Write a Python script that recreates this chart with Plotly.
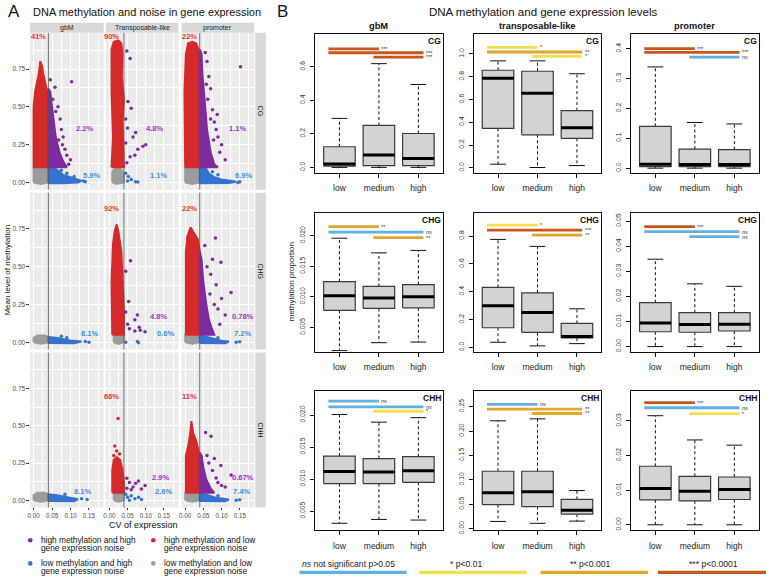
import plotly.graph_objects as go

W, H = 766, 580

# ======================= PANEL A DATA =======================
A_REGIONS = ["gbM", "Transposable-like", "promoter"]
A_CONTEXTS = ["CG", "CHG", "CHH"]
A_CV_THRESHOLD = 0.04
A_XTICKS = [0.0, 0.05, 0.10, 0.15]
A_YTICKS = [0.0, 0.25, 0.50, 0.75]

# dense clouds are outlined as polygons (CV, methylation); sparse points listed one by one
A_GBM_CG = dict(
    gray=[(0.0, 0.0), (0.0, 0.1), (0.04, 0.1), (0.04, 0.0), (0.02, -0.01)],
    blue=[(0.04, -0.005), (0.04, 0.1), (0.05, 0.1), (0.06, 0.09), (0.07, 0.07), (0.08, 0.05), (0.1, 0.035),
          (0.12, 0.02), (0.13, 0.01), (0.12, 0.0), (0.08, -0.006)],
    red=[(0.0, 0.1), (0.0, 0.5), (0.004, 0.6), (0.01, 0.66), (0.014, 0.72), (0.018, 0.80), (0.023, 0.77),
         (0.026, 0.72), (0.03, 0.68), (0.035, 0.62), (0.04, 0.6), (0.04, 0.1)],
    purple=[(0.04, 0.1), (0.04, 0.62), (0.045, 0.6), (0.05, 0.5), (0.055, 0.4), (0.06, 0.3), (0.07, 0.2),
            (0.08, 0.14), (0.09, 0.1)],
    purple_pts=[(0.045, 0.68), (0.052, 0.55), (0.06, 0.47), (0.066, 0.5), (0.072, 0.42), (0.075, 0.35),
                (0.08, 0.3), (0.068, 0.28), (0.085, 0.22), (0.09, 0.18), (0.1, 0.15), (0.103, 0.666),
                (0.058, 0.63), (0.078, 0.25), (0.095, 0.12)],
    blue_pts=[(0.135, 0.01), (0.14, 0.005), (0.11, 0.04), (0.09, 0.06), (0.075, 0.08)],
)
A_TE_CG = dict(
    gray=[(0.008, 0.0), (0.008, 0.07), (0.015, 0.09), (0.03, 0.09), (0.04, 0.06), (0.04, 0.0), (0.02, -0.01)],
    red=[(0.006, 0.1), (0.01, 0.3), (0.006, 0.6), (0.006, 0.88), (0.012, 0.93), (0.025, 0.94), (0.033, 0.92),
         (0.036, 0.85), (0.034, 0.7), (0.04, 0.55), (0.036, 0.4), (0.04, 0.2), (0.04, 0.1)],
    purple_pts=[(0.048, 0.87), (0.057, 0.82), (0.051, 0.535), (0.06, 0.49), (0.045, 0.42), (0.05, 0.36),
                (0.072, 0.33), (0.065, 0.3), (0.092, 0.24), (0.1, 0.25), (0.078, 0.22), (0.057, 0.17),
                (0.07, 0.18), (0.045, 0.26), (0.048, 0.13)],
    blue_pts=[(0.045, 0.06), (0.052, 0.04), (0.06, 0.02), (0.072, 0.005), (0.078, 0.003), (0.05, 0.01)],
)
A_PRO_CG = dict(
    gray=[(0.0, 0.0), (0.0, 0.1), (0.04, 0.1), (0.04, 0.0), (0.02, -0.01)],
    blue=[(0.04, -0.005), (0.04, 0.1), (0.055, 0.1), (0.065, 0.06), (0.08, 0.035), (0.1, 0.02), (0.13, 0.01),
          (0.14, 0.005), (0.12, -0.003), (0.07, -0.006)],
    red=[(0.0, 0.1), (-0.002, 0.6), (0.002, 0.85), (0.008, 0.92), (0.02, 0.93), (0.03, 0.92), (0.037, 0.88),
         (0.04, 0.8), (0.04, 0.1)],
    purple=[(0.04, 0.1), (0.04, 0.88), (0.045, 0.85), (0.048, 0.7), (0.055, 0.5), (0.06, 0.35), (0.07, 0.2),
            (0.08, 0.12), (0.09, 0.1)],
    purple_pts=[(0.152, 0.765), (0.055, 0.86), (0.06, 0.8), (0.065, 0.7), (0.07, 0.62), (0.062, 0.55),
                (0.075, 0.48), (0.08, 0.4), (0.085, 0.35), (0.09, 0.3), (0.1, 0.25), (0.095, 0.2),
                (0.11, 0.15), (0.07, 0.42), (0.058, 0.65), (0.088, 0.45), (0.078, 0.28)],
    blue_pts=[(0.15, 0.005), (0.145, 0.0), (0.09, 0.05), (0.075, 0.07)],
)
A_GBM_CHG = dict(
    gray=[(0.0, 0.0), (0.0, 0.03), (0.01, 0.045), (0.03, 0.045), (0.04, 0.035), (0.04, 0.0), (0.02, -0.01)],
    blue=[(0.04, -0.005), (0.04, 0.035), (0.06, 0.03), (0.08, 0.02), (0.1, 0.012), (0.13, 0.005), (0.11, -0.006)],
    blue_pts=[(0.14, 0.005), (0.15, 0.0), (0.075, 0.04), (0.09, 0.03)],
)
A_TE_CHG = dict(
    gray=[(0.012, 0.0), (0.012, 0.04), (0.02, 0.05), (0.035, 0.05), (0.04, 0.04), (0.04, 0.0), (0.025, -0.01)],
    red=[(0.008, 0.05), (0.006, 0.4), (0.01, 0.65), (0.015, 0.74), (0.02, 0.78), (0.025, 0.73), (0.033, 0.6),
         (0.036, 0.4), (0.04, 0.2), (0.04, 0.05)],
    purple_pts=[(0.058, 0.54), (0.045, 0.47), (0.053, 0.27), (0.077, 0.18), (0.07, 0.15), (0.05, 0.12),
                (0.082, 0.1), (0.098, 0.07), (0.085, 0.08), (0.07, 0.075), (0.055, 0.09), (0.045, 0.2)],
    blue_pts=[(0.045, 0.0), (0.077, 0.005), (0.08, -0.003)],
)
A_PRO_CHG = dict(
    gray=[(0.0, 0.0), (0.0, 0.05), (0.04, 0.05), (0.04, 0.0), (0.02, -0.01)],
    blue=[(0.04, -0.005), (0.04, 0.045), (0.06, 0.035), (0.08, 0.02), (0.1, 0.01), (0.12, 0.005), (0.11, -0.006)],
    red=[(0.002, 0.05), (0.002, 0.6), (0.006, 0.7), (0.015, 0.76), (0.025, 0.72), (0.035, 0.68), (0.04, 0.6),
         (0.04, 0.05)],
    purple=[(0.04, 0.05), (0.04, 0.6), (0.045, 0.55), (0.05, 0.4), (0.058, 0.25), (0.065, 0.15), (0.075, 0.08),
            (0.08, 0.05)],
    purple_pts=[(0.054, 0.64), (0.083, 0.69), (0.098, 0.53), (0.126, 0.33), (0.1, 0.29), (0.075, 0.55),
                (0.07, 0.45), (0.085, 0.38), (0.09, 0.22), (0.11, 0.18), (0.095, 0.12), (0.06, 0.5),
                (0.08, 0.25), (0.068, 0.32)],
    blue_pts=[(0.14, 0.0), (0.15, 0.003), (0.09, 0.03)],
)
A_GBM_CHH = dict(
    gray=[(0.0, 0.0), (0.0, 0.035), (0.01, 0.05), (0.03, 0.05), (0.04, 0.04), (0.04, 0.0), (0.02, -0.01)],
    blue=[(0.04, -0.005), (0.04, 0.04), (0.06, 0.035), (0.08, 0.025), (0.1, 0.015), (0.12, 0.008), (0.11, -0.006)],
    blue_pts=[(0.13, 0.01), (0.145, 0.005), (0.085, 0.04)],
)
A_TE_CHH = dict(
    gray=[(0.012, 0.0), (0.012, 0.04), (0.02, 0.05), (0.035, 0.05), (0.04, 0.04), (0.04, 0.0), (0.025, -0.01)],
    red=[(0.008, 0.05), (0.008, 0.2), (0.012, 0.27), (0.02, 0.29), (0.03, 0.27), (0.036, 0.2), (0.04, 0.12),
         (0.04, 0.05)],
    red_pts=[(0.024, 0.548), (0.015, 0.364), (0.02, 0.33), (0.028, 0.31), (0.012, 0.3)],
    purple_pts=[(0.048, 0.148), (0.055, 0.12), (0.072, 0.115), (0.08, 0.13), (0.065, 0.09), (0.048, 0.08),
                (0.098, 0.1), (0.06, 0.07), (0.088, 0.075)],
    blue_pts=[(0.045, 0.04), (0.05, 0.02), (0.06, 0.03), (0.07, 0.01), (0.08, 0.02), (0.088, 0.005), (0.055, 0.0)],
)
A_PRO_CHH = dict(
    gray=[(0.0, 0.0), (0.0, 0.05), (0.04, 0.05), (0.04, 0.0), (0.02, -0.01)],
    blue=[(0.04, -0.005), (0.04, 0.045), (0.06, 0.035), (0.08, 0.02), (0.1, 0.012), (0.12, 0.005), (0.11, -0.006)],
    red=[(0.002, 0.05), (0.002, 0.3), (0.008, 0.36), (0.014, 0.45), (0.017, 0.53), (0.022, 0.45), (0.03, 0.4),
         (0.036, 0.35), (0.04, 0.3), (0.04, 0.05)],
    purple=[(0.04, 0.05), (0.04, 0.32), (0.045, 0.3), (0.05, 0.22), (0.058, 0.14), (0.07, 0.08), (0.08, 0.05)],
    purple_pts=[(0.056, 0.455), (0.071, 0.43), (0.098, 0.234), (0.126, 0.169), (0.1, 0.1), (0.06, 0.3),
                (0.065, 0.25), (0.075, 0.2), (0.085, 0.15), (0.09, 0.12), (0.11, 0.09), (0.08, 0.28)],
    blue_pts=[(0.14, 0.0), (0.15, 0.003), (0.09, 0.03)],
)
A_PANELS = [[A_GBM_CG, A_TE_CG, A_PRO_CG],
            [A_GBM_CHG, A_TE_CHG, A_PRO_CHG],
            [A_GBM_CHH, A_TE_CHH, A_PRO_CHH]]

# percentage labels (red, purple, blue) per panel
A_PCT = [[("41%", "2.2%", "5.9%"), ("90%", "4.8%", "1.1%"), ("22%", "1.1%", "6.9%")],
         [("", "", "8.1%"), ("92%", "4.8%", "0.6%"), ("22%", "0.78%", "7.2%")],
         [("", "", "8.1%"), ("66%", "2.9%", "2.6%"), ("11%", "0.67%", "7.4%")]]

A_LEGEND = ["high methylation and high|gene expression noise",
            "high methylation and low|gene expression noise",
            "low methylation and high|gene expression noise",
            "low methylation and low|gene expression noise"]

# ======================= PANEL B DATA =======================
B_REGIONS = ["gbM", "transposable-like", "promoter"]
B_CONTEXTS = ["CG", "CHG", "CHH"]
B_CATS = ["low", "medium", "high"]
# per category: [lower whisker, Q1, median, Q3, upper whisker]
B_GBM_CG = [[0.0, 0.008, 0.02, 0.123, 0.292], [0.0, 0.01, 0.074, 0.25, 0.618], [0.0, 0.01, 0.053, 0.202, 0.494]]
B_TE_CG = [[0.032, 0.346, 0.787, 0.857, 0.939], [0.003, 0.29, 0.654, 0.848, 0.939], [0.02, 0.259, 0.351, 0.503, 0.826]]
B_PRO_CG = [[0.0, 0.005, 0.013, 0.14, 0.339], [0.0, 0.005, 0.012, 0.064, 0.153], [0.0, 0.005, 0.012, 0.062, 0.148]]
B_GBM_CHG = [[0.0012, 0.0078, 0.0102, 0.0125, 0.0196], [0.0025, 0.0081, 0.0098, 0.0117, 0.0172],
             [0.0026, 0.0082, 0.0100, 0.0120, 0.0176]]
B_TE_CHG = [[0.038, 0.142, 0.299, 0.432, 0.776], [0.012, 0.109, 0.252, 0.392, 0.726], [0.028, 0.069, 0.08, 0.173, 0.278]]
B_PRO_CHG = [[0.0, 0.0059, 0.0094, 0.0175, 0.0348], [0.0, 0.0057, 0.0088, 0.0135, 0.025],
             [0.0, 0.0062, 0.0089, 0.0135, 0.024]]
B_GBM_CHH = [[0.0031, 0.0093, 0.0112, 0.0136, 0.0201], [0.0037, 0.0093, 0.0111, 0.0132, 0.0189],
             [0.0036, 0.0095, 0.0113, 0.0135, 0.0196]]
B_TE_CHH = [[0.0148, 0.0493, 0.0736, 0.1176, 0.221], [0.011, 0.0453, 0.0757, 0.1176, 0.225],
            [0.0155, 0.0297, 0.0378, 0.06, 0.078]]
B_PRO_CHH = [[0.0, 0.0072, 0.0105, 0.0169, 0.0315], [0.0, 0.0069, 0.0097, 0.014, 0.0245],
             [0.0, 0.0073, 0.0102, 0.0138, 0.023]]
B_STATS = [[B_GBM_CG, B_TE_CG, B_PRO_CG], [B_GBM_CHG, B_TE_CHG, B_PRO_CHG], [B_GBM_CHH, B_TE_CHH, B_PRO_CHH]]

B_YRANGE = [[(-0.034, 0.796), (-0.046, 1.177), (-0.0166, 0.45)],
            [(0.001, 0.0238), (-0.031, 0.969), (-0.0021, 0.0534)],
            [(0.002, 0.0238), (-0.0034, 0.2825), (-0.0016, 0.0387)]]
B_YTICKS = [[[0.0, 0.2, 0.4, 0.6], [0.0, 0.2, 0.4, 0.6, 0.8, 1.0], [0.0, 0.1, 0.2, 0.3, 0.4]],
            [[0.005, 0.010, 0.015, 0.020], [0.0, 0.2, 0.4, 0.6, 0.8], [0.0, 0.01, 0.02, 0.03, 0.04, 0.05]],
            [[0.005, 0.010, 0.015, 0.020], [0.0, 0.05, 0.10, 0.15, 0.20, 0.25], [0.0, 0.01, 0.02, 0.03]]]
B_YFMT = [[".1f", ".1f", ".1f"], [".3f", ".1f", ".2f"], [".3f", ".2f", ".2f"]]

# significance: (group i, group j, level, y); level 0=ns, 1=*, 2=**, 3=***
B_SIG = [[[(1, 2, 3, 0.706), (1, 3, 3, 0.683), (2, 3, 3, 0.657)],
          [(1, 2, 1, 1.058), (1, 3, 2, 1.017), (2, 3, 1, 0.979)],
          [(1, 2, 3, 0.400), (1, 3, 3, 0.388), (2, 3, 0, 0.372)]],
         [[(1, 2, 2, 0.0215), (1, 3, 0, 0.0206), (2, 3, 2, 0.0197)],
          [(1, 2, 1, 0.878), (1, 3, 3, 0.843), (2, 3, 2, 0.807)],
          [(1, 2, 3, 0.0478), (1, 3, 0, 0.0458), (2, 3, 0, 0.0438)]],
         [[(1, 2, 0, 0.0222), (1, 3, 0, 0.0213), (2, 3, 1, 0.0206)],
          [(1, 2, 0, 0.2547), (1, 3, 2, 0.245), (2, 3, 2, 0.236)],
          [(1, 2, 3, 0.0353), (1, 3, 0, 0.0338), (2, 3, 1, 0.0321)]]]
SIG_LABELS = ["<i>ns</i>", "*", "**", "***"]
SIG_LEGEND = ["<i>ns</i> not significant p&gt;0.05", "* p&lt;0.01", "** p&lt;0.001", "*** p&lt;0.0001"]

# ======================= STYLE =======================
COL_RED, COL_PURPLE, COL_BLUE, COL_GRAY = "#D42A2A", "#7F2A9E", "#3473CF", "#9C9C9C"
LAB_RED, LAB_PURPLE, LAB_BLUE = "#E8342C", "#9A33D1", "#3D8FE0"
SIG_COLORS = ["#62B0E0", "#F2E052", "#E3A42C", "#C8561E"]
FONT = "Liberation Sans, Arial, sans-serif"

A_COLS = [(28, 102), (104, 177), (180, 253)]
A_ROWS = [(33, 191), (194, 352), (355, 511)]
B_COLS = [(313.8, 442), (472.8, 601), (630.5, 758.8)]
B_ROWS = [(34, 174.3), (214, 354.3), (393.5, 534)]
A_XRANGE = [-0.01, 0.19]
A_YRANGE = [-0.048, 0.99]


def xd(a, b):
    return [a / W, b / W]


def yd(a, b):
    return [1 - b / H, 1 - a / H]


def px(v):
    return v / W


def py(v):
    return 1 - v / H


def aname(k, kind):
    return kind + ("axis" if k == 1 else "axis%d" % k)


def aref(k, kind):
    return kind if k == 1 else "%s%d" % (kind, k)


fig = go.Figure()
layout = dict(width=W, height=H, margin=dict(l=0, r=0, t=0, b=0), plot_bgcolor="white",
              paper_bgcolor="white", showlegend=False, font=dict(family=FONT, color="#222"))
shapes = []
ann = []

# ======================= PANEL A =======================
for r in range(3):
    for c in range(3):
        k = r * 3 + c + 1
        xr, yr = aref(k, "x"), aref(k, "y")
        d = A_PANELS[r][c]
        for key, col in [("gray", COL_GRAY), ("blue", COL_BLUE), ("red", COL_RED), ("purple", COL_PURPLE)]:
            pts = d.get(key)
            if pts:
                xs = [p[0] for p in pts] + [pts[0][0]]
                ys = [p[1] for p in pts] + [pts[0][1]]
                fig.add_trace(go.Scatter(x=xs, y=ys, mode="lines", fill="toself", fillcolor=col,
                                         line=dict(color=col, width=2), xaxis=xr, yaxis=yr,
                                         hoverinfo="skip"))
        for key, col in [("red_pts", COL_RED), ("purple_pts", COL_PURPLE), ("blue_pts", COL_BLUE)]:
            pts = d.get(key)
            if pts:
                fig.add_trace(go.Scatter(x=[p[0] for p in pts], y=[p[1] for p in pts], mode="markers",
                                         marker=dict(color=col, size=3.5, line=dict(width=0)),
                                         xaxis=xr, yaxis=yr, hoverinfo="skip"))
        layout[aname(k, "x")] = dict(
            domain=xd(*A_COLS[c]), range=A_XRANGE, anchor=yr, showgrid=True, gridcolor="white", gridwidth=1,
            minor=dict(showgrid=True, dtick=0.025, gridcolor="white", gridwidth=0.5), tick0=0, dtick=0.05,
            tickformat=".2f", zeroline=False, showline=False, ticks="outside" if r == 2 else "",
            ticklen=2, tickcolor="#333", showticklabels=(r == 2), tickfont=dict(size=6.3, color="#4D4D4D"),
            ticklabelstandoff=0)
        layout[aname(k, "y")] = dict(
            domain=yd(*A_ROWS[r]), range=A_YRANGE, anchor=xr, showgrid=True, gridcolor="white", gridwidth=1,
            minor=dict(showgrid=True, dtick=0.125, gridcolor="white", gridwidth=0.5), tick0=0, dtick=0.25,
            tickformat=".2f", zeroline=False, showline=False, ticks="outside" if c == 0 else "",
            ticklen=2.5, tickcolor="#333", showticklabels=(c == 0), tickfont=dict(size=6.5, color="#4D4D4D"))
        shapes.append(dict(type="rect", xref=xr + " domain", yref=yr + " domain", x0=0, x1=1, y0=0, y1=1,
                           fillcolor="#EBEBEB", line=dict(width=0), layer="below"))
        shapes.append(dict(type="line", xref=xr, yref=yr + " domain", x0=A_CV_THRESHOLD, x1=A_CV_THRESHOLD,
                           y0=0, y1=1, line=dict(color="#555", width=0.8)))
        # percentages
        red_t, pur_t, blu_t = A_PCT[r][c]
        red_xy = [(0.013, 0.005, 0.012)[c], (0.967, 0.887, 0.696)[r]]
        pur_xy = [[(0.137, 0.124, 0.145), (0.137, 0.134, 0.159), (0.137, 0.141, 0.159)][r][c], (0.36, 0.17, 0.15)[r]]
        blu_xy = [[(0.157, 0.134, 0.16), (0.151, 0.154, 0.157), (0.132, 0.15, 0.155)][r][c], (0.048, 0.056, 0.06)[r]]
        for t, xy, col in [(red_t, red_xy, LAB_RED), (pur_t, pur_xy, LAB_PURPLE), (blu_t, blu_xy, LAB_BLUE)]:
            if t:
                ann.append(dict(text="<b>%s</b>" % t, x=xy[0], y=xy[1], xref=xr, yref=yr, showarrow=False,
                                font=dict(size=7.5, color=col), xanchor="center", yanchor="middle"))

# strips
for c in range(3):
    shapes.append(dict(type="rect", xref="paper", yref="paper", x0=px(A_COLS[c][0]), x1=px(A_COLS[c][1]),
                       y0=py(33), y1=py(23), fillcolor="#D9D9D9", line=dict(width=0)))
    ann.append(dict(text=A_REGIONS[c], x=px(sum(A_COLS[c]) / 2), y=py(28.3), xref="paper", yref="paper",
                    showarrow=False, font=dict(size=7, color="#1A1A1A"), xanchor="center", yanchor="middle"))
for r in range(3):
    shapes.append(dict(type="rect", xref="paper", yref="paper", x0=px(254), x1=px(264.5),
                       y0=py(A_ROWS[r][1]), y1=py(A_ROWS[r][0]), fillcolor="#D9D9D9", line=dict(width=0)))
    ann.append(dict(text=A_CONTEXTS[r], x=px(259.3), y=py(sum(A_ROWS[r]) / 2), xref="paper", yref="paper",
                    showarrow=False, textangle=90, font=dict(size=7, color="#1A1A1A"),
                    xanchor="center", yanchor="middle"))

ann.append(dict(text="A", x=px(4), y=py(12), xref="paper", yref="paper", showarrow=False,
                font=dict(size=17, color="#111"), xanchor="left", yanchor="middle"))
ann.append(dict(text="DNA methylation and noise in gene expression", x=px(29), y=py(12.5), xref="paper",
                yref="paper", showarrow=False, font=dict(size=11, color="#111"), xanchor="left",
                yanchor="middle"))
ann.append(dict(text="Mean level of methylation", x=px(5.5), y=py(272), xref="paper", yref="paper",
                showarrow=False, textangle=-90, font=dict(size=8, color="#111"), xanchor="center",
                yanchor="middle"))
ann.append(dict(text="CV of expression", x=px(142), y=py(529), xref="paper", yref="paper",
                showarrow=False, font=dict(size=9, color="#111"), xanchor="center", yanchor="middle"))

# legend A
leg_pos = [(28.3, 544, COL_PURPLE), (151.7, 544, COL_RED), (28.3, 567.3, COL_BLUE), (151.7, 567.3, COL_GRAY)]
for (lx, ly, col), txt in zip(leg_pos, A_LEGEND):
    shapes.append(dict(type="circle", xref="paper", yref="paper", x0=px(lx - 2.3), x1=px(lx + 2.3),
                       y0=py(ly + 2.3), y1=py(ly - 2.3), fillcolor=col, line=dict(width=0)))
    l1, l2 = txt.split("|")
    for i, t in enumerate([l1, l2]):
        ann.append(dict(text=t, x=px(lx + 8.5), y=py(ly + 7.9 * i), xref="paper", yref="paper",
                        showarrow=False, font=dict(size=8.3, color="#111"), xanchor="left", yanchor="middle"))

# ======================= PANEL B =======================
for r in range(3):
    for c in range(3):
        k = 10 + r * 3 + c
        xr, yr = aref(k, "x"), aref(k, "y")
        stats = B_STATS[r][c]
        bx, by, mx, my, wx, wy, sx, sy = [], [], [], [], [], [], [], []
        for i, (lw, q1, med, q3, uw) in enumerate(stats):
            p = i + 1
            bx += [p - 0.4, p + 0.4, p + 0.4, p - 0.4, p - 0.4, None]
            by += [q1, q1, q3, q3, q1, None]
            mx += [p - 0.4, p + 0.4, None]
            my += [med, med, None]
            wx += [p, p, None, p, p, None]
            wy += [q3, uw, None, q1, lw, None]
            sx += [p - 0.2, p + 0.2, None, p - 0.2, p + 0.2, None]
            sy += [uw, uw, None, lw, lw, None]
        fig.add_trace(go.Scatter(x=wx, y=wy, mode="lines", line=dict(color="#111", width=1, dash="3px,2.5px"),
                                 xaxis=xr, yaxis=yr, hoverinfo="skip"))
        fig.add_trace(go.Scatter(x=sx, y=sy, mode="lines", line=dict(color="#111", width=1),
                                 xaxis=xr, yaxis=yr, hoverinfo="skip"))
        fig.add_trace(go.Scatter(x=bx, y=by, mode="lines", fill="toself", fillcolor="#D3D3D3",
                                 line=dict(color="#3A3A3A", width=1.2), xaxis=xr, yaxis=yr, hoverinfo="skip"))
        fig.add_trace(go.Scatter(x=mx, y=my, mode="lines", line=dict(color="#000", width=3),
                                 xaxis=xr, yaxis=yr, hoverinfo="skip"))
        for (gi, gj, lev, yv) in B_SIG[r][c]:
            x0 = 0.72 if gi == 1 else 1.86
            x1 = 2.0 if gj == 2 else 3.13
            fig.add_trace(go.Scatter(x=[x0, x1], y=[yv, yv], mode="lines",
                                     line=dict(color=SIG_COLORS[lev], width=2.8), xaxis=xr, yaxis=yr,
                                     hoverinfo="skip"))
            ann.append(dict(text=SIG_LABELS[lev], x=x1 + 0.04, y=yv, xref=xr, yref=yr, showarrow=False,
                            font=dict(size=5.5, color="#333"), xanchor="left", yanchor="middle",
                            borderpad=0))
        ticks = B_YTICKS[r][c]
        layout[aname(k, "x")] = dict(
            domain=xd(*B_COLS[c]), range=[0.38, 3.62], anchor=yr, tickvals=[1, 2, 3], ticktext=B_CATS,
            ticks="outside", ticklen=4, tickcolor="#111", showline=True, mirror=True, linecolor="#111",
            linewidth=1, showgrid=False, zeroline=False, tickfont=dict(size=8.5, color="#222"),
            ticklabelstandoff=3)
        layout[aname(k, "y")] = dict(
            domain=yd(*B_ROWS[r]), range=list(B_YRANGE[r][c]), anchor=xr, tickvals=ticks,
            ticktext=[format(t, B_YFMT[r][c]) for t in ticks], tickangle=-90, ticks="outside", ticklen=4,
            tickcolor="#111", showline=True, mirror=True, linecolor="#111", linewidth=1, showgrid=False,
            zeroline=False, tickfont=dict(size=6.8, color="#333"), ticklabelstandoff=2)
        ann.append(dict(text="<b>%s</b>" % B_CONTEXTS[r], x=1, y=1, xref=xr + " domain", yref=yr + " domain",
                        showarrow=False, font=dict(size=8.5, color="#111"), xanchor="right", yanchor="top",
                        xshift=-1, yshift=-1, borderpad=0))

for c in range(3):
    ann.append(dict(text="<b>%s</b>" % B_REGIONS[c], x=px(sum(B_COLS[c]) / 2), y=py(26.5), xref="paper",
                    yref="paper", showarrow=False, font=dict(size=9.3, color="#111"), xanchor="center",
                    yanchor="middle"))
ann.append(dict(text="B", x=px(274), y=py(12), xref="paper", yref="paper", showarrow=False,
                font=dict(size=17, color="#111"), xanchor="left", yanchor="middle"))
ann.append(dict(text="DNA methylation and gene expression levels", x=px(542), y=py(12), xref="paper",
                yref="paper", showarrow=False, font=dict(size=11.5, color="#111"), xanchor="center",
                yanchor="middle"))
ann.append(dict(text="methylation proportion", x=px(290), y=py(284), xref="paper", yref="paper",
                showarrow=False, textangle=-90, font=dict(size=8, color="#222"), xanchor="center",
                yanchor="middle"))

# legend B
leg_lines = [(298.3, 405.7), (418.3, 526), (540, 647.7), (657.7, 766)]
leg_text = [(298.3, "left"), (465, "center"), (590, "center"), (713, "center")]
for i in range(4):
    shapes.append(dict(type="line", xref="paper", yref="paper", x0=px(leg_lines[i][0]), x1=px(leg_lines[i][1]),
                       y0=py(576.3), y1=py(576.3), line=dict(color=SIG_COLORS[i], width=3.2)))
    ann.append(dict(text=SIG_LEGEND[i], x=px(leg_text[i][0]), y=py(568.3), xref="paper", yref="paper",
                    showarrow=False, font=dict(size=8.6, color="#222"), xanchor=leg_text[i][1],
                    yanchor="middle"))

layout["shapes"] = shapes
layout["annotations"] = ann
fig.update_layout(**layout)
fig.write_html("out.html")
